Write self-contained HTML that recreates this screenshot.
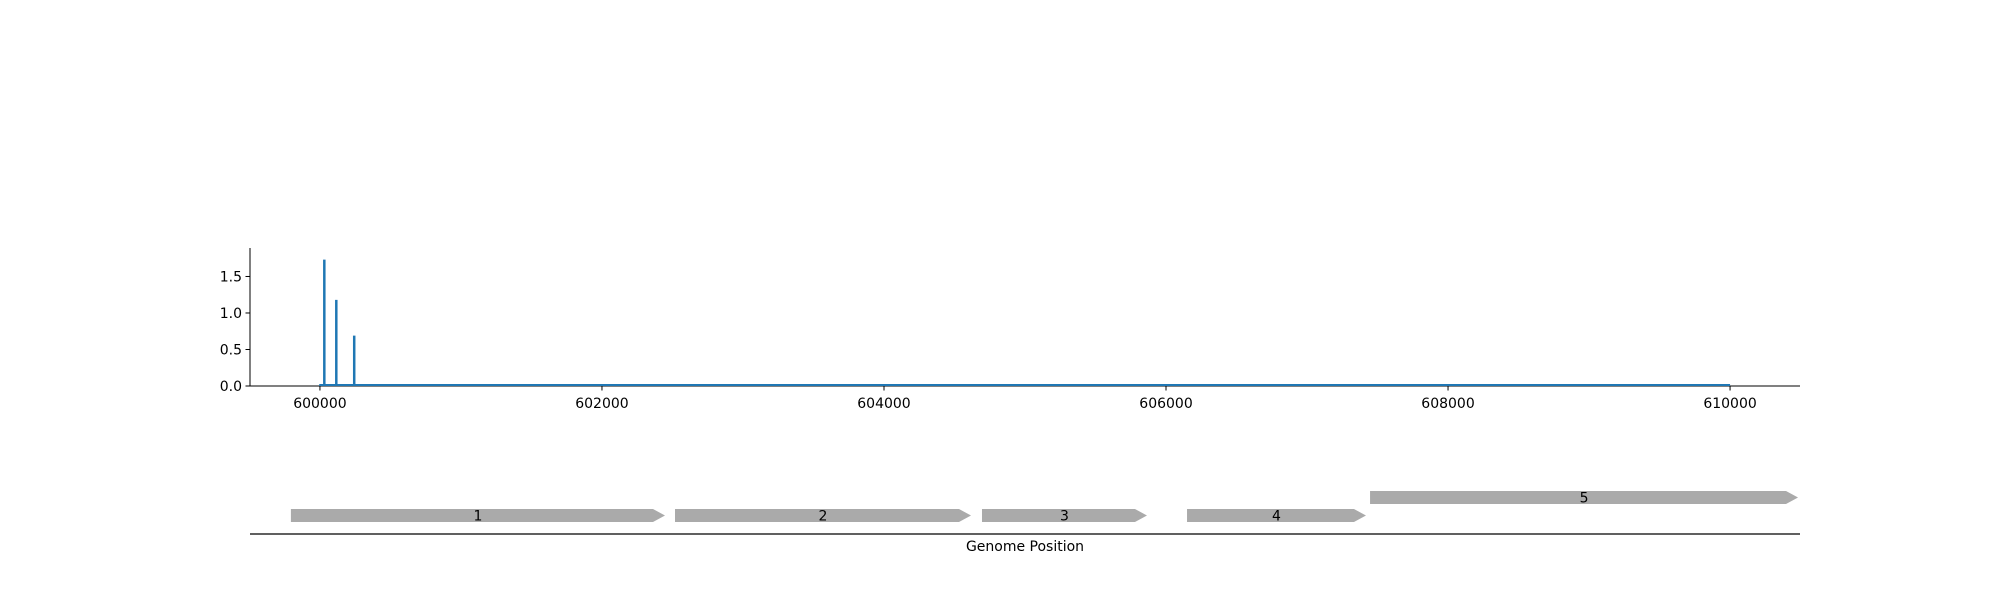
<!DOCTYPE html>
<html><head><meta charset="utf-8"><style>
html,body{margin:0;padding:0;background:#fff;}
svg{display:block;font-family:"DejaVu Sans","Liberation Sans",sans-serif;}
</style></head><body>
<svg id="chart" width="2000" height="600" viewBox="0 0 2000 600" xmlns="http://www.w3.org/2000/svg">
<g id="plot"></g>
<g id="genes"></g>
</svg>
<script>
const xTicks = [600000, 602000, 604000, 606000, 608000, 610000];
const yTicks = [0.0, 0.5, 1.0, 1.5];
const yTickLabels = ["0.0", "0.5", "1.0", "1.5"];
const spikePositions = [600031, 600116, 600243];
const spikeValues = [1.73, 1.18, 0.69];
const baselineRange = [599995, 610000];
const geneNames = ["1", "2", "3", "4", "5"];
const geneStarts = [599794, 602518, 604695, 606149, 607447];
const geneEnds = [602447, 604617, 605865, 607418, 610482];
const geneRows = [0, 0, 0, 0, 1];

const NS = "http://www.w3.org/2000/svg";
const X0 = 250, X1 = 1800, XMIN = 599504, XMAX = 610496;
const YB = 386, YT = 248, YMAX = 1.89;
const sx = v => X0 + (v - XMIN) / (XMAX - XMIN) * (X1 - X0);
const sy = v => YB - v / YMAX * (YB - YT);
function mk(tag, attrs, parent, text) {
  const e = document.createElementNS(NS, tag);
  for (const k in attrs) e.setAttribute(k, attrs[k]);
  if (text !== undefined) e.textContent = text;
  parent.appendChild(e);
  return e;
}
const plot = document.getElementById('plot');
const genes = document.getElementById('genes');

let a = mk('line', {x1: X0, y1: YT, x2: X0, y2: YB, stroke: '#000', 'stroke-width': 1}, plot);


a = mk('line', {x1: X0, y1: YB, x2: X1, y2: YB, stroke: '#000', 'stroke-width': 1}, plot);



yTicks.forEach((t, i) => {
  const y = sy(t);
  const l = mk('line', {x1: X0 - 4.5, y1: y, x2: X0, y2: y, stroke: '#000', 'stroke-width': 1}, plot);
  
  
  const tx = mk('text', {x: X0 - 8, y: y + 5, 'text-anchor': 'end', 'font-size': 14}, plot, yTickLabels[i]);
  
  
});
xTicks.forEach(t => {
  const x = sx(t);
  const l = mk('line', {x1: x, y1: YB, x2: x, y2: YB + 4.5, stroke: '#000', 'stroke-width': 1}, plot);
  
  
  const tx = mk('text', {x: x, y: YB + 22, 'text-anchor': 'middle', 'font-size': 14}, plot, String(t));
  
  
});

const bl = mk('line', {x1: sx(baselineRange[0]), y1: sy(0) - 1, x2: sx(baselineRange[1]), y2: sy(0) - 1, stroke: '#1f77b4', 'stroke-width': 2}, plot);


spikePositions.forEach((p, i) => {
  const s = mk('line', {x1: sx(p), y1: sy(0), x2: sx(p), y2: sy(spikeValues[i]), stroke: '#1f77b4', 'stroke-width': 2.5}, plot);
  
  
});

const rowY = [509, 491], GH = 13, TIP = 12;
geneNames.forEach((n, i) => {
  const x0 = sx(geneStarts[i]), x1 = sx(geneEnds[i]), y = rowY[geneRows[i]];
  const pts = `${x0},${y} ${x1 - TIP},${y} ${x1},${y + GH / 2} ${x1 - TIP},${y + GH} ${x0},${y + GH}`;
  const g = mk('polygon', {points: pts, fill: '#aaaaaa'}, genes);
  
  
  const t = mk('text', {x: (x0 + x1) / 2, y: y + GH / 2 + 5, 'text-anchor': 'middle', 'font-size': 14}, genes, n);
  
  
});
const gl = mk('line', {x1: X0, y1: 534, x2: X1, y2: 534, stroke: '#000', 'stroke-width': 1.2}, genes);


const xl = mk('text', {x: (X0 + X1) / 2, y: 551, 'text-anchor': 'middle', 'font-size': 14}, genes, 'Genome Position');


</script>
</body></html>
